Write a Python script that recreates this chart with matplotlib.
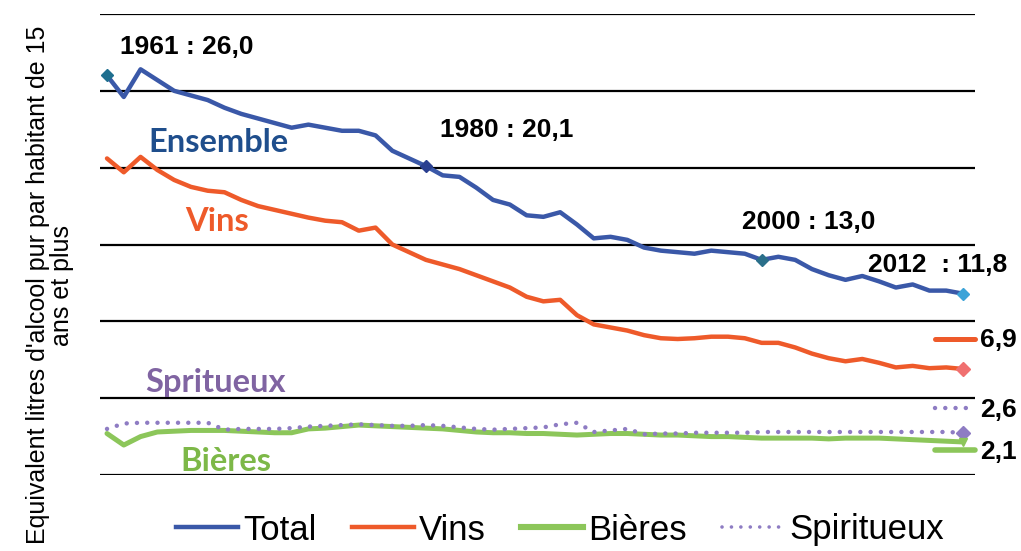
import matplotlib
matplotlib.use("Agg")
import matplotlib.pyplot as plt
from matplotlib.lines import Line2D

years = list(range(1961, 2013))

total = [26.0, 24.6, 26.4, 25.7, 25.0, 24.7, 24.4, 23.9, 23.5, 23.2,
         22.9, 22.6, 22.8, 22.6, 22.4, 22.4, 22.1, 21.1, 20.6, 20.1,
         19.5, 19.4, 18.7, 17.9, 17.6, 16.9, 16.8, 17.1, 16.3, 15.4,
         15.5, 15.3, 14.8, 14.6, 14.5, 14.4, 14.6, 14.5, 14.4, 14.0,
         14.2, 14.0, 13.4, 13.0, 12.7, 12.95, 12.6, 12.2, 12.4, 12.0,
         12.0, 11.8]

vins = [20.6, 19.7, 20.7, 19.85, 19.2, 18.75, 18.5, 18.4, 17.9, 17.5,
        17.25, 17.0, 16.75, 16.55, 16.45, 15.9, 16.1, 15.0, 14.5, 14.0,
        13.7, 13.4, 13.0, 12.6, 12.2, 11.6, 11.3, 11.4, 10.4, 9.8,
        9.6, 9.4, 9.1, 8.9, 8.85, 8.9, 9.0, 9.0, 8.9, 8.6,
        8.6, 8.3, 7.9, 7.6, 7.4, 7.55, 7.3, 7.0, 7.1, 6.95,
        7.0, 6.9]

bieres = [2.7, 1.95, 2.5, 2.8, 2.85, 2.9, 2.9, 2.9, 2.85, 2.8,
          2.75, 2.75, 3.0, 3.05, 3.15, 3.25, 3.2, 3.15, 3.1, 3.05,
          3.0, 2.9, 2.8, 2.75, 2.75, 2.7, 2.7, 2.65, 2.6, 2.65,
          2.7, 2.7, 2.65, 2.6, 2.6, 2.55, 2.5, 2.5, 2.45, 2.4,
          2.4, 2.4, 2.4, 2.35, 2.4, 2.4, 2.4, 2.35, 2.3, 2.25,
          2.2, 2.15]

spiritueux = [3.0, 3.35, 3.4, 3.4, 3.4, 3.4, 3.4, 2.95, 3.0, 3.0,
              3.0, 3.05, 3.15, 3.2, 3.25, 3.3, 3.25, 3.2, 3.2, 3.25,
              3.2, 3.1, 3.0, 2.95, 3.0, 3.05, 3.1, 3.3, 3.4, 2.8,
              2.9, 3.0, 2.65, 2.7, 2.7, 2.75, 2.75, 2.75, 2.75, 2.8,
              2.8, 2.8, 2.8, 2.8, 2.8, 2.8, 2.8, 2.8, 2.8, 2.8,
              2.8, 2.75]

legend_labels = ["Total", "Vins", "Bières", "Spiritueux"]
point_labels = ["1961 : 26,0", "1980 : 20,1", "2000 : 13,0", "2012  : 11,8"]
point_years = [1961, 1980, 2000, 2012]
end_labels = ["6,9", "2,6", "2,1"]
series_labels = ["Ensemble", "Vins", "Spritueux", "Bières"]
ylabel = "Equivalent litres d'alcool pur par habitant de 15\nans et plus"

c_total = "#3A58A8"
c_vins = "#EE5A2A"
c_bier = "#8CC65A"
c_spir = "#8E7CC3"
dots = (0, (0.01, 2.3))

fig = plt.figure(figsize=(10.21, 5.51), dpi=100)
ax = fig.add_axes([100/1021, 1-475/551, 875/1021, 461/551])

ax.set_xlim(1961 - 7/16.78, 2012 + 12/16.78)
ax.set_ylim(0, 30)
for s in ax.spines.values():
    s.set_visible(False)
ax.set_xticks([])
ax.set_yticks(range(0, 31, 5))
ax.tick_params(axis='y', length=0, labelleft=False)
ax.grid(axis='y', color='black', lw=1.6)
ax.set_axisbelow(True)

ax.plot(years, total, color=c_total, lw=3.2, solid_capstyle='round', solid_joinstyle='round')
ax.plot(years, vins, color=c_vins, lw=3.2, solid_capstyle='round', solid_joinstyle='round')
ax.plot(years, bieres, color=c_bier, lw=3.6, solid_capstyle='round', solid_joinstyle='round')
ax.plot(years, spiritueux, color=c_spir, lw=3.2, ls=dots, dash_capstyle='round')

# markers on Total
mk_cols = ["#1F6F8F", "#2A3F90", "#2A6F8A", "#3BA3D8"]
for yr, col in zip(point_years, mk_cols):
    ax.plot([yr], [total[years.index(yr)]], marker='D', ms=6.5, color=col, zorder=5)
ax.plot([2012], [vins[-1]], marker='D', ms=7, color="#F07070", zorder=5)
ax.plot([2012], [spiritueux[-1]], marker='D', ms=7, color=c_spir, zorder=5)
ax.plot([2012], [bieres[-1]], marker='v', ms=6, color=c_bier, zorder=5)

bold = dict(fontsize=19, fontweight='bold', family='Liberation Sans', color='black', va='center')
ax.text(1961.77, 27.85, point_labels[0], **bold)
ax.text(1980.85, 22.45, point_labels[1], **bold)
ax.text(1998.84, 16.47, point_labels[2], **bold)
ax.text(2006.35, 13.67, point_labels[3], **bold)

# end segments and labels
xs_seg = [2010.34, 2012.72]
ax.plot(xs_seg, [8.85, 8.85], color=c_vins, lw=3.6, solid_capstyle='round', clip_on=False)
ax.plot(xs_seg, [4.37, 4.37], color=c_spir, lw=3.2, ls=dots, dash_capstyle='round', clip_on=False)
ax.plot(xs_seg, [1.63, 1.63], color=c_bier, lw=4.0, solid_capstyle='round', clip_on=False)
ax.text(2013.03, 8.79, end_labels[0], **bold)
ax.text(2013.03, 4.24, end_labels[1], **bold)
ax.text(2013.03, 1.5, end_labels[2], **bold)

series = dict(fontsize=23.5, fontweight='bold', family='Lato', va='center')
ax.text(1963.44, 21.67, series_labels[0], color="#1F4E8C", **series)
ax.text(1965.65, 16.47, series_labels[1], color=c_vins, **series)
ax.text(1963.26, 6.0, series_labels[2], color="#8064A2", **series)
ax.text(1965.35, 0.85, series_labels[3], color="#7DB848", **series)

fig.text(50/1021, 1-285/551, ylabel, rotation=90, ha='center', va='center',
         fontsize=18, family='Liberation Sans', linespacing=1.05, multialignment='center')

handles = [Line2D([], [], color=c_total, lw=3.2),
           Line2D([], [], color=c_vins, lw=3.2),
           Line2D([], [], color=c_bier, lw=4.4),
           Line2D([], [], color=c_spir, lw=2.6, ls=(0, (0.01, 2.6)), dash_capstyle='round')]
fig.legend(handles, legend_labels, loc='center', bbox_to_anchor=(560/1021, 1-530/551),
           ncol=4, frameon=False, prop={'family': 'Liberation Sans', 'size': 25},
           handlelength=1.8, handletextpad=0.15, columnspacing=1.0,
           borderpad=0, borderaxespad=0)

fig.savefig("out.png", dpi=100)
